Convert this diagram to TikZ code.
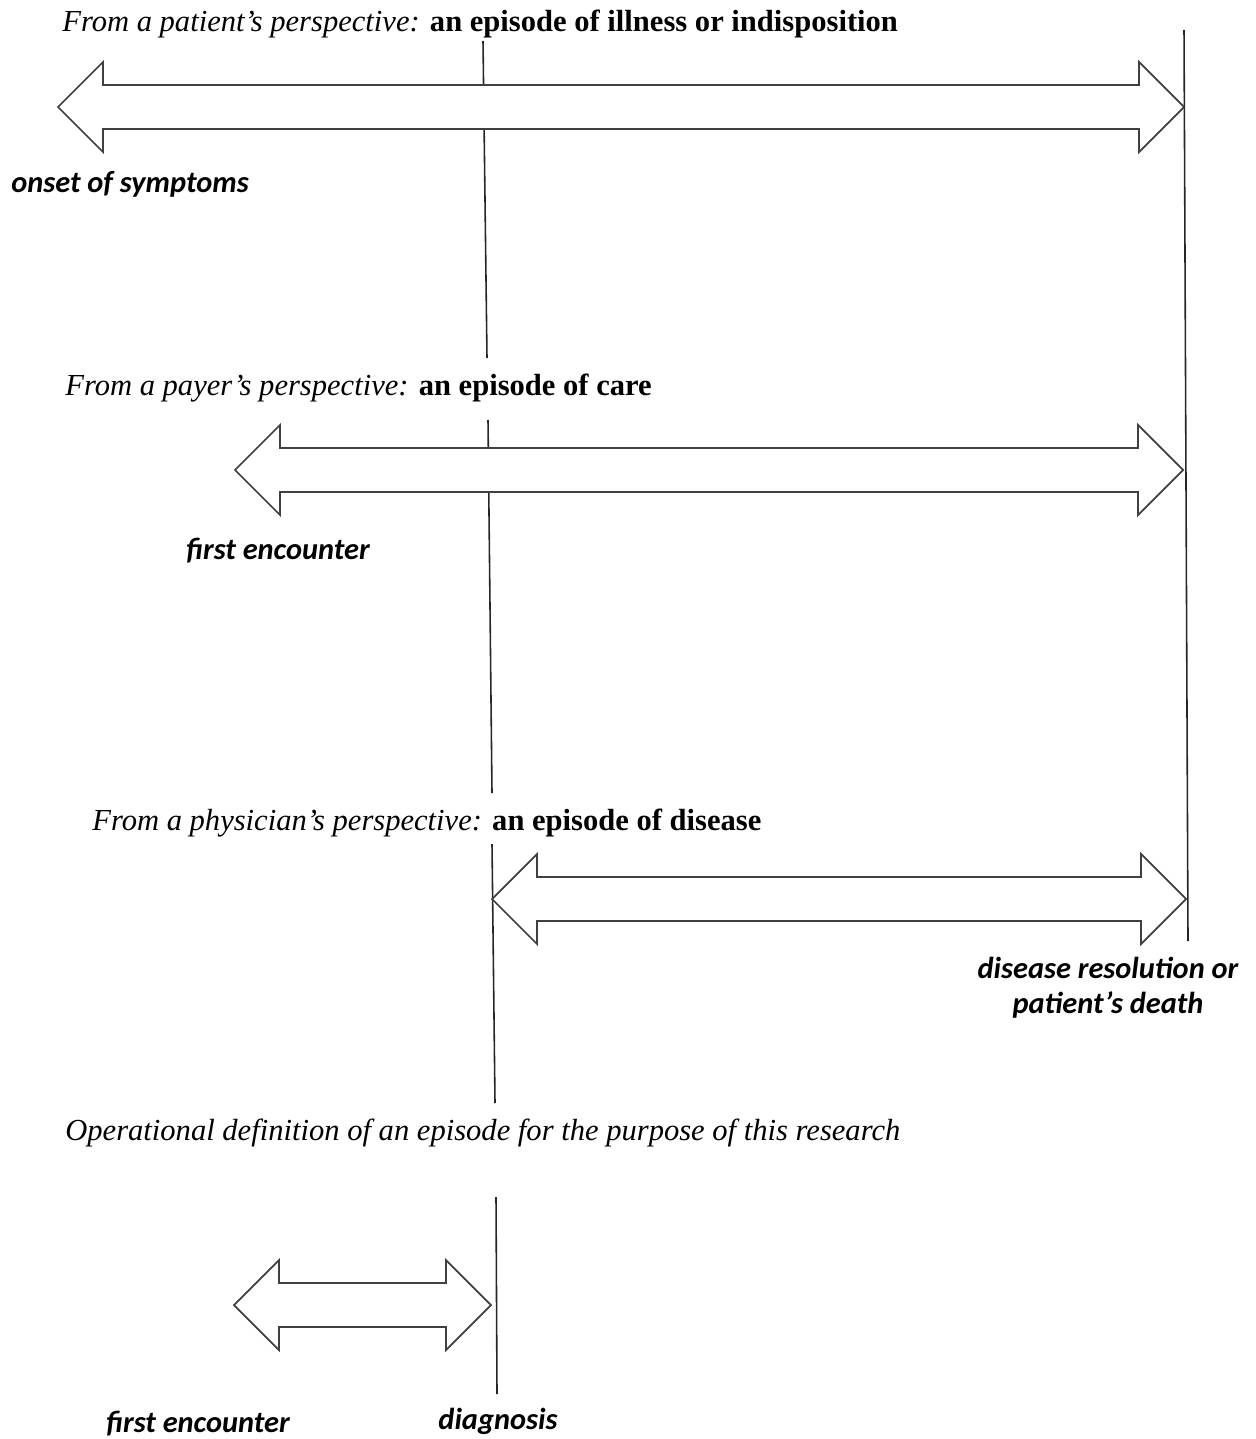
\documentclass[tikz,border=0pt]{standalone}
\usepackage{fontspec}
\setmainfont{Liberation Serif}
\newfontfamily\eventfont{Carlito}
\usetikzlibrary{calc}

\begin{document}
\begin{tikzpicture}[x=0.02cm, y=-0.02cm,
            title/.style={anchor=base west, inner sep=0pt, font=\fontsize{17.4}{20}\selectfont},
            event/.style={inner sep=0pt, align=center, font=\eventfont\fontsize{17.3}{20}\selectfont\bfseries\itshape},
            span/.style={draw=black!75, line width=1pt, fill=white},
            marker/.style={draw=black!85, line width=0.9pt}
        ]

            \useasboundingbox (0,0) rectangle (1255,1439);

            % End points of the episodes
            \coordinate (onset) at (58,107);
            \coordinate (end1) at (1184,107);
            \coordinate (first2) at (235,470);
            \coordinate (end2) at (1183,470);
            \coordinate (diag3) at (492,899);
            \coordinate (end3) at (1186,899);
            \coordinate (first4) at (234,1305);
            \coordinate (diag4) at (491,1305);

            % Diagnosis line, broken by the titles
            \draw[marker] (483,41) -- (487,358);
            \draw[marker] (488,420) -- (492,793);
            \draw[marker] (492,844) -- (495,1103);
            \draw[marker] (496,1197) -- (497,1394);
            % Resolution line
            \draw[marker] (1184,30) -- (1188,941);

            % Patient
            \node[title] (patient) at (62,32) {\textit{From a patient’s perspective:} \textbf{an episode of illness or indisposition}};
            \draw[span] (onset) -- ++(45,-45) -- ++(0,23) -- ($(end1)+(-45,-22)$) -- ++(0,-23) -- (end1) -- ++(-45,45) -- ++(0,-23) -- ($(onset)+(45,22)$) -- ++(0,23) -- cycle;
            \node[event] (symptoms) at (130,184) {onset of symptoms};

            % Payer
            \node[title] (payer) at (65,395) {\textit{From a payer’s perspective:} \textbf{an episode of care}};
            \draw[span] (first2) -- ++(45,-45) -- ++(0,23) -- ($(end2)+(-45,-22)$) -- ++(0,-23) -- (end2) -- ++(-45,45) -- ++(0,-23) -- ($(first2)+(45,22)$) -- ++(0,23) -- cycle;
            \node[event] (encounter) at (278,551) {first encounter};

            % Physician
            \node[title] (physician) at (92,830) {\textit{From a physician’s perspective:} \textbf{an episode of disease}};
            \draw[span] (diag3) -- ++(45,-45) -- ++(0,23) -- ($(end3)+(-45,-22)$) -- ++(0,-23) -- (end3) -- ++(-45,45) -- ++(0,-23) -- ($(diag3)+(45,22)$) -- ++(0,23) -- cycle;
            \node[event] (resolution) at (1108,988) {disease resolution or\\patient’s death};

            % Operational definition
            \node[title] (operational) at (65,1140) {\textit{Operational definition of an episode for the purpose of this research}};
            \draw[span] (first4) -- ++(45,-45) -- ++(0,23) -- ($(diag4)+(-45,-22)$) -- ++(0,-23) -- (diag4) -- ++(-45,45) -- ++(0,-23) -- ($(first4)+(45,22)$) -- ++(0,23) -- cycle;
            \node[event] (encounter4) at (198,1424) {first encounter};
            \node[event] (diagnosis) at (498,1421) {diagnosis};

        \end{tikzpicture}
\end{document}
